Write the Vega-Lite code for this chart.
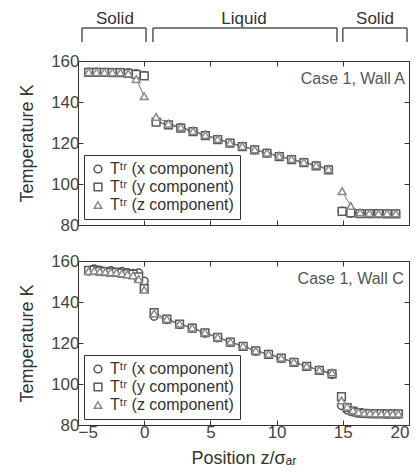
{
  "$schema": "https://vega.github.io/schema/vega-lite/v6.json",
  "padding": {"left": 18, "top": 9, "right": 5, "bottom": 5},
  "background": "white",
  "config": {
    "font": "Liberation Sans",
    "view": {"stroke": "#333", "strokeWidth": 1},
    "axis": {"grid": false, "domain": false, "tickSize": -5, "tickColor": "#333", "labelFontSize": 17, "labelColor": "#444", "titleFontSize": 18, "titleFontWeight": "normal", "titleColor": "#333", "labelPadding": 4, "labelFont": "Liberation Sans", "titleFont": "Liberation Sans"},
    "legend": {"orient": "bottom-left", "offset": 6, "strokeColor": "#333", "padding": 6, "labelFontSize": 16, "symbolSize": 60, "symbolStrokeWidth": 1.5, "rowPadding": 2, "symbolFillColor": "white", "labelColor": "#333", "labelFont": "Liberation Sans", "fillColor": "white"}
  },
  "datasets": {
    "A": [
      {"c":"x","s":1,"z":-4.2,"T":154.6},{"c":"x","s":1,"z":-3.6,"T":154.6},{"c":"x","s":1,"z":-3.0,"T":154.5},{"c":"x","s":1,"z":-2.4,"T":154.5},{"c":"x","s":1,"z":-1.8,"T":154.4},{"c":"x","s":1,"z":-1.2,"T":154.3},{"c":"x","s":1,"z":-0.6,"T":153.8},{"c":"x","s":1,"z":0.0,"T":153.0},
      {"c":"x","s":2,"z":0.9,"T":130.4},{"c":"x","s":2,"z":1.83,"T":129.0},{"c":"x","s":2,"z":2.76,"T":127.5},{"c":"x","s":2,"z":3.69,"T":125.7},{"c":"x","s":2,"z":4.62,"T":123.8},{"c":"x","s":2,"z":5.55,"T":121.8},{"c":"x","s":2,"z":6.48,"T":120.0},{"c":"x","s":2,"z":7.41,"T":118.3},{"c":"x","s":2,"z":8.34,"T":116.7},{"c":"x","s":2,"z":9.27,"T":115.1},{"c":"x","s":2,"z":10.2,"T":113.5},{"c":"x","s":2,"z":11.13,"T":112.0},{"c":"x","s":2,"z":12.06,"T":110.5},{"c":"x","s":2,"z":12.99,"T":109.0},{"c":"x","s":2,"z":13.92,"T":107.0},
      {"c":"x","s":3,"z":14.95,"T":86.8},{"c":"x","s":3,"z":15.6,"T":85.8},{"c":"x","s":3,"z":16.3,"T":85.6},{"c":"x","s":3,"z":17.0,"T":85.5},{"c":"x","s":3,"z":17.7,"T":85.5},{"c":"x","s":3,"z":18.35,"T":85.5},{"c":"x","s":3,"z":19.0,"T":85.5},
      {"c":"y","s":1,"z":-4.2,"T":154.4},{"c":"y","s":1,"z":-3.6,"T":154.4},{"c":"y","s":1,"z":-3.0,"T":154.4},{"c":"y","s":1,"z":-2.4,"T":154.3},{"c":"y","s":1,"z":-1.8,"T":154.3},{"c":"y","s":1,"z":-1.2,"T":154.0},{"c":"y","s":1,"z":-0.6,"T":153.5},{"c":"y","s":1,"z":0.0,"T":152.8},
      {"c":"y","s":2,"z":0.9,"T":130.2},{"c":"y","s":2,"z":1.83,"T":128.8},{"c":"y","s":2,"z":2.76,"T":127.3},{"c":"y","s":2,"z":3.69,"T":125.5},{"c":"y","s":2,"z":4.62,"T":123.6},{"c":"y","s":2,"z":5.55,"T":121.7},{"c":"y","s":2,"z":6.48,"T":119.9},{"c":"y","s":2,"z":7.41,"T":118.2},{"c":"y","s":2,"z":8.34,"T":116.6},{"c":"y","s":2,"z":9.27,"T":115.0},{"c":"y","s":2,"z":10.2,"T":113.4},{"c":"y","s":2,"z":11.13,"T":111.9},{"c":"y","s":2,"z":12.06,"T":110.4},{"c":"y","s":2,"z":12.99,"T":108.9},{"c":"y","s":2,"z":13.92,"T":106.9},
      {"c":"y","s":3,"z":14.95,"T":86.6},{"c":"y","s":3,"z":15.6,"T":85.9},{"c":"y","s":3,"z":16.3,"T":85.6},{"c":"y","s":3,"z":17.0,"T":85.5},{"c":"y","s":3,"z":17.7,"T":85.5},{"c":"y","s":3,"z":18.35,"T":85.4},{"c":"y","s":3,"z":19.0,"T":85.4},
      {"c":"z","s":1,"z":-4.2,"T":154.6},{"c":"z","s":1,"z":-3.6,"T":154.6},{"c":"z","s":1,"z":-3.0,"T":154.6},{"c":"z","s":1,"z":-2.4,"T":154.5},{"c":"z","s":1,"z":-1.8,"T":154.4},{"c":"z","s":1,"z":-1.2,"T":154.0},{"c":"z","s":1,"z":-0.6,"T":151.2},{"c":"z","s":1,"z":0.0,"T":142.8},
      {"c":"z","s":2,"z":0.9,"T":132.7},{"c":"z","s":2,"z":1.83,"T":129.5},{"c":"z","s":2,"z":2.76,"T":127.8},{"c":"z","s":2,"z":3.69,"T":125.9},{"c":"z","s":2,"z":4.62,"T":124.0},{"c":"z","s":2,"z":5.55,"T":122.0},{"c":"z","s":2,"z":6.48,"T":120.2},{"c":"z","s":2,"z":7.41,"T":118.5},{"c":"z","s":2,"z":8.34,"T":116.9},{"c":"z","s":2,"z":9.27,"T":115.3},{"c":"z","s":2,"z":10.2,"T":113.7},{"c":"z","s":2,"z":11.13,"T":112.2},{"c":"z","s":2,"z":12.06,"T":110.7},{"c":"z","s":2,"z":12.99,"T":109.2},{"c":"z","s":2,"z":13.92,"T":107.3},
      {"c":"z","s":3,"z":14.95,"T":96.5},{"c":"z","s":3,"z":15.6,"T":89.3},{"c":"z","s":3,"z":16.3,"T":86.2},{"c":"z","s":3,"z":17.0,"T":85.8},{"c":"z","s":3,"z":17.7,"T":85.7},{"c":"z","s":3,"z":18.35,"T":85.7},{"c":"z","s":3,"z":19.0,"T":85.6}
    ],
    "C": [
      {"c":"x","s":1,"z":-4.2,"T":155.0},{"c":"x","s":1,"z":-3.78,"T":156.2},{"c":"x","s":1,"z":-3.36,"T":155.5},{"c":"x","s":1,"z":-2.94,"T":155.0},{"c":"x","s":1,"z":-2.52,"T":155.3},{"c":"x","s":1,"z":-2.1,"T":154.6},{"c":"x","s":1,"z":-1.68,"T":154.9},{"c":"x","s":1,"z":-1.26,"T":154.3},{"c":"x","s":1,"z":-0.84,"T":154.0},{"c":"x","s":1,"z":-0.42,"T":154.2},{"c":"x","s":1,"z":0.0,"T":150.2},
      {"c":"x","s":2,"z":0.75,"T":133.0},{"c":"x","s":2,"z":1.71,"T":131.4},{"c":"x","s":2,"z":2.67,"T":129.0},{"c":"x","s":2,"z":3.63,"T":127.2},{"c":"x","s":2,"z":4.59,"T":124.8},{"c":"x","s":2,"z":5.55,"T":122.5},{"c":"x","s":2,"z":6.51,"T":120.3},{"c":"x","s":2,"z":7.47,"T":118.3},{"c":"x","s":2,"z":8.43,"T":116.0},{"c":"x","s":2,"z":9.39,"T":114.4},{"c":"x","s":2,"z":10.35,"T":112.5},{"c":"x","s":2,"z":11.31,"T":110.5},{"c":"x","s":2,"z":12.27,"T":108.5},{"c":"x","s":2,"z":13.23,"T":106.6},{"c":"x","s":2,"z":14.19,"T":104.6},
      {"c":"x","s":3,"z":14.9,"T":89.5},{"c":"x","s":3,"z":15.33,"T":87.3},{"c":"x","s":3,"z":15.76,"T":86.3},{"c":"x","s":3,"z":16.19,"T":85.8},{"c":"x","s":3,"z":16.62,"T":85.6},{"c":"x","s":3,"z":17.05,"T":85.5},{"c":"x","s":3,"z":17.48,"T":85.4},{"c":"x","s":3,"z":17.91,"T":85.4},{"c":"x","s":3,"z":18.34,"T":85.3},{"c":"x","s":3,"z":18.77,"T":85.3},{"c":"x","s":3,"z":19.2,"T":85.3},
      {"c":"y","s":1,"z":-4.2,"T":155.4},{"c":"y","s":1,"z":-3.78,"T":155.5},{"c":"y","s":1,"z":-3.36,"T":155.1},{"c":"y","s":1,"z":-2.94,"T":154.8},{"c":"y","s":1,"z":-2.52,"T":154.6},{"c":"y","s":1,"z":-2.1,"T":154.5},{"c":"y","s":1,"z":-1.68,"T":154.1},{"c":"y","s":1,"z":-1.26,"T":153.9},{"c":"y","s":1,"z":-0.84,"T":153.6},{"c":"y","s":1,"z":-0.42,"T":152.3},{"c":"y","s":1,"z":0.0,"T":146.5},
      {"c":"y","s":2,"z":0.75,"T":134.8},{"c":"y","s":2,"z":1.71,"T":131.6},{"c":"y","s":2,"z":2.67,"T":129.2},{"c":"y","s":2,"z":3.63,"T":127.3},{"c":"y","s":2,"z":4.59,"T":125.0},{"c":"y","s":2,"z":5.55,"T":122.7},{"c":"y","s":2,"z":6.51,"T":120.4},{"c":"y","s":2,"z":7.47,"T":118.4},{"c":"y","s":2,"z":8.43,"T":116.1},{"c":"y","s":2,"z":9.39,"T":114.5},{"c":"y","s":2,"z":10.35,"T":112.6},{"c":"y","s":2,"z":11.31,"T":110.6},{"c":"y","s":2,"z":12.27,"T":108.6},{"c":"y","s":2,"z":13.23,"T":106.7},{"c":"y","s":2,"z":14.19,"T":104.9},
      {"c":"y","s":3,"z":14.9,"T":93.8},{"c":"y","s":3,"z":15.33,"T":88.5},{"c":"y","s":3,"z":15.76,"T":86.8},{"c":"y","s":3,"z":16.19,"T":86.0},{"c":"y","s":3,"z":16.62,"T":85.7},{"c":"y","s":3,"z":17.05,"T":85.6},{"c":"y","s":3,"z":17.48,"T":85.5},{"c":"y","s":3,"z":17.91,"T":85.5},{"c":"y","s":3,"z":18.34,"T":85.4},{"c":"y","s":3,"z":18.77,"T":85.4},{"c":"y","s":3,"z":19.2,"T":85.4},
      {"c":"z","s":1,"z":-4.2,"T":155.0},{"c":"z","s":1,"z":-3.78,"T":155.3},{"c":"z","s":1,"z":-3.36,"T":155.0},{"c":"z","s":1,"z":-2.94,"T":154.8},{"c":"z","s":1,"z":-2.52,"T":154.6},{"c":"z","s":1,"z":-2.1,"T":154.4},{"c":"z","s":1,"z":-1.68,"T":154.0},{"c":"z","s":1,"z":-1.26,"T":153.5},{"c":"z","s":1,"z":-0.84,"T":153.0},{"c":"z","s":1,"z":-0.42,"T":151.2},{"c":"z","s":1,"z":0.0,"T":146.0},
      {"c":"z","s":2,"z":0.75,"T":134.5},{"c":"z","s":2,"z":1.71,"T":131.8},{"c":"z","s":2,"z":2.67,"T":129.4},{"c":"z","s":2,"z":3.63,"T":127.5},{"c":"z","s":2,"z":4.59,"T":125.2},{"c":"z","s":2,"z":5.55,"T":122.9},{"c":"z","s":2,"z":6.51,"T":120.6},{"c":"z","s":2,"z":7.47,"T":118.6},{"c":"z","s":2,"z":8.43,"T":116.3},{"c":"z","s":2,"z":9.39,"T":114.7},{"c":"z","s":2,"z":10.35,"T":112.8},{"c":"z","s":2,"z":11.31,"T":110.8},{"c":"z","s":2,"z":12.27,"T":108.8},{"c":"z","s":2,"z":13.23,"T":106.9},{"c":"z","s":2,"z":14.19,"T":105.6},
      {"c":"z","s":3,"z":14.9,"T":92.0},{"c":"z","s":3,"z":15.33,"T":89.0},{"c":"z","s":3,"z":15.76,"T":87.2},{"c":"z","s":3,"z":16.19,"T":86.3},{"c":"z","s":3,"z":16.62,"T":85.9},{"c":"z","s":3,"z":17.05,"T":85.8},{"c":"z","s":3,"z":17.48,"T":85.7},{"c":"z","s":3,"z":17.91,"T":85.6},{"c":"z","s":3,"z":18.34,"T":85.6},{"c":"z","s":3,"z":18.77,"T":85.5},{"c":"z","s":3,"z":19.2,"T":85.5}
    ],
    "br": [
      {"x1":-4.7,"x2":0.14,"y1":176.1,"y2":176.1},{"x1":-4.7,"x2":-4.7,"y1":169.3,"y2":176.1},{"x1":0.14,"x2":0.14,"y1":169.3,"y2":176.1},
      {"x1":0.66,"x2":14.56,"y1":176.1,"y2":176.1},{"x1":0.66,"x2":0.66,"y1":169.3,"y2":176.1},{"x1":14.56,"x2":14.56,"y1":169.3,"y2":176.1},
      {"x1":15.0,"x2":19.85,"y1":176.1,"y2":176.1},{"x1":15.0,"x2":15.0,"y1":169.3,"y2":176.1},{"x1":19.85,"x2":19.85,"y1":169.3,"y2":176.1}
    ],
    "brt": [
      {"x":-2.21,"y":178.2,"t":"Solid"},{"x":7.54,"y":178.2,"t":"Liquid"},{"x":17.43,"y":178.2,"t":"Solid"}
    ]
  },
  "spacing": 17,
  "resolve": {"scale": {"stroke": "independent", "shape": "independent"}, "legend": {"stroke": "independent", "shape": "independent"}},
  "vconcat": [
    {
      "width": 331, "height": 164,
      "resolve": {"axis": {"x": "independent", "y": "independent"}},
      "layer": [
        {
          "data": {"name": "A"},
          "mark": {"type": "line", "color": "#777", "strokeWidth": 1},
          "encoding": {
            "x": {"field": "z", "type": "quantitative", "scale": {"domain": [-5, 20], "nice": false}, "axis": {"values": [-5, 0, 5, 10, 15, 20], "labels": false, "title": null}},
            "y": {"field": "T", "type": "quantitative", "scale": {"domain": [80, 160], "nice": false}, "axis": {"values": [80, 100, 120, 140, 160], "title": "Temperature  K", "titlePadding": 14}},
            "detail": [{"field": "c"}, {"field": "s"}]
          }
        },
        {
          "data": {"name": "A"},
          "mark": {"type": "point", "fill": "white", "fillOpacity": 1, "opacity": 1, "strokeWidth": 1.5, "size": 60},
          "encoding": {
            "x": {"field": "z", "type": "quantitative", "axis": {"orient": "top", "values": [-5, 0, 5, 10, 15, 20], "labels": false, "title": null}},
            "y": {"field": "T", "type": "quantitative", "axis": {"orient": "right", "values": [80, 100, 120, 140, 160], "labels": false, "title": null}},
            "stroke": {"field": "c", "type": "nominal", "scale": {"domain": ["x", "y", "z"], "range": ["#555555", "#5a5a5a", "#888888"]}, "legend": {"labelExpr": "{'x':'Tᵗʳ (x component)','y':'Tᵗʳ (y component)','z':'Tᵗʳ (z component)'}[datum.label]", "title": null}},
            "shape": {"field": "c", "type": "nominal", "scale": {"domain": ["x", "y", "z"], "range": ["circle", "square", "triangle-up"]}, "legend": {"labelExpr": "{'x':'Tᵗʳ (x component)','y':'Tᵗʳ (y component)','z':'Tᵗʳ (z component)'}[datum.label]", "title": null}}
          }
        },
        {
          "data": {"values": [{"z": 19.7, "T": 148.8, "t": "Case 1, Wall A"}]},
          "mark": {"type": "text", "align": "right", "baseline": "alphabetic", "fontSize": 16, "color": "#555"},
          "encoding": {"x": {"field": "z", "type": "quantitative", "axis": null}, "y": {"field": "T", "type": "quantitative", "axis": null}, "text": {"field": "t"}}
        },
        {
          "data": {"name": "br"},
          "mark": {"type": "rule", "color": "#555", "strokeWidth": 1.5},
          "encoding": {"x": {"field": "x1", "type": "quantitative", "axis": null}, "x2": {"field": "x2"}, "y": {"field": "y1", "type": "quantitative", "axis": null}, "y2": {"field": "y2"}}
        },
        {
          "data": {"name": "brt"},
          "mark": {"type": "text", "align": "center", "baseline": "alphabetic", "fontSize": 17, "color": "#333"},
          "encoding": {"x": {"field": "x", "type": "quantitative", "axis": null}, "y": {"field": "y", "type": "quantitative", "axis": null}, "text": {"field": "t"}}
        }
      ]
    },
    {
      "width": 331, "height": 164,
      "resolve": {"axis": {"x": "independent", "y": "independent"}},
      "layer": [
        {
          "data": {"name": "C"},
          "mark": {"type": "line", "color": "#777", "strokeWidth": 1},
          "encoding": {
            "x": {"field": "z", "type": "quantitative", "scale": {"domain": [-5, 20], "nice": false}, "axis": {"values": [-5, 0, 5, 10, 15, 20], "title": "Position  z/σₐᵣ", "titlePadding": 9}},
            "y": {"field": "T", "type": "quantitative", "scale": {"domain": [80, 160], "nice": false}, "axis": {"values": [80, 100, 120, 140, 160], "title": "Temperature  K", "titlePadding": 14}},
            "detail": [{"field": "c"}, {"field": "s"}]
          }
        },
        {
          "data": {"name": "C"},
          "mark": {"type": "point", "fill": "white", "fillOpacity": 1, "opacity": 1, "strokeWidth": 1.5, "size": 60},
          "encoding": {
            "x": {"field": "z", "type": "quantitative", "axis": {"orient": "top", "values": [-5, 0, 5, 10, 15, 20], "labels": false, "title": null}},
            "y": {"field": "T", "type": "quantitative", "axis": {"orient": "right", "values": [80, 100, 120, 140, 160], "labels": false, "title": null}},
            "stroke": {"field": "c", "type": "nominal", "scale": {"domain": ["x", "y", "z"], "range": ["#555555", "#5a5a5a", "#888888"]}, "legend": {"labelExpr": "{'x':'Tᵗʳ (x component)','y':'Tᵗʳ (y component)','z':'Tᵗʳ (z component)'}[datum.label]", "title": null}},
            "shape": {"field": "c", "type": "nominal", "scale": {"domain": ["x", "y", "z"], "range": ["circle", "square", "triangle-up"]}, "legend": {"labelExpr": "{'x':'Tᵗʳ (x component)','y':'Tᵗʳ (y component)','z':'Tᵗʳ (z component)'}[datum.label]", "title": null}}
          }
        },
        {
          "data": {"values": [{"z": 19.6, "T": 148.7, "t": "Case 1, Wall C"}]},
          "mark": {"type": "text", "align": "right", "baseline": "alphabetic", "fontSize": 16, "color": "#555"},
          "encoding": {"x": {"field": "z", "type": "quantitative", "axis": null}, "y": {"field": "T", "type": "quantitative", "axis": null}, "text": {"field": "t"}}
        }
      ]
    }
  ]
}
